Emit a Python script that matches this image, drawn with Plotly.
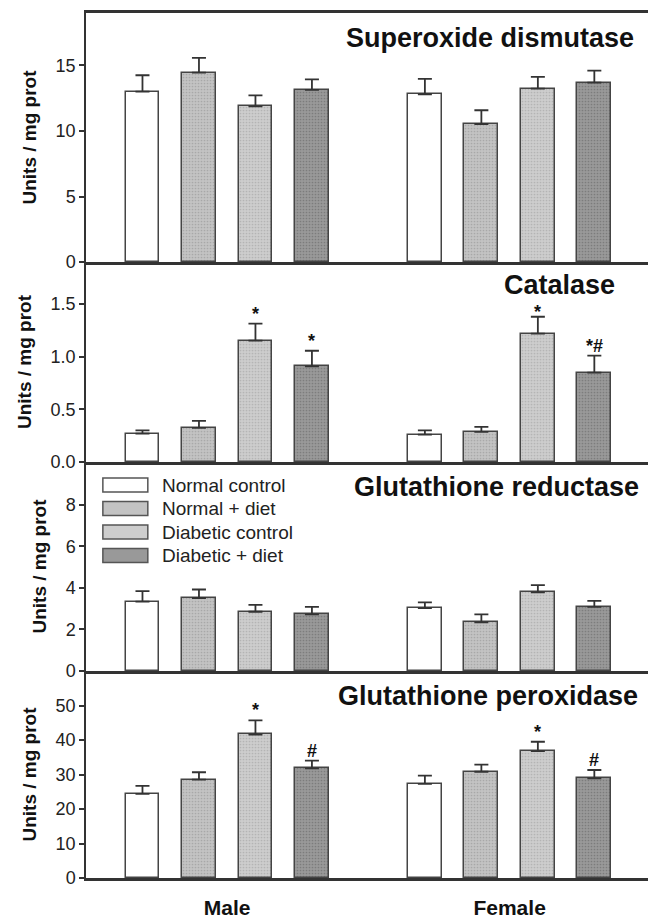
import plotly.graph_objects as go

# ---------------- data ----------------
groups = ["Male", "Female"]
series = ["Normal control", "Normal + diet", "Diabetic control", "Diabetic + diet"]
enzymes = ["Superoxide dismutase", "Catalase", "Glutathione reductase", "Glutathione peroxidase"]

# rows = series, cols = groups (Male, Female)
sod_mean = [[13.0, 12.8], [14.45, 10.53], [11.88, 13.23], [13.13, 13.69]]
sod_err = [[1.25, 1.17], [1.12, 1.05], [0.84, 0.89], [0.81, 0.91]]
cat_mean = [[0.27, 0.26], [0.325, 0.287], [1.153, 1.22], [0.908, 0.85]]
cat_err = [[0.03, 0.04], [0.065, 0.047], [0.162, 0.16], [0.149, 0.16]]
gr_mean = [[3.34, 3.02], [3.51, 2.34], [2.85, 3.78], [2.72, 3.08]]
gr_err = [[0.50, 0.28], [0.41, 0.38], [0.33, 0.35], [0.36, 0.29]]
gp_mean = [[24.4, 27.3], [28.5, 30.8], [41.6, 36.8], [31.8, 28.9]]
gp_err = [[2.3, 2.4], [2.15, 2.05], [4.1, 2.7], [2.2, 2.4]]

sod_sig = [["", ""], ["", ""], ["", ""], ["", ""]]
cat_sig = [["", ""], ["", ""], ["*", "*"], ["*", "*#"]]
gr_sig = [["", ""], ["", ""], ["", ""], ["", ""]]
gp_sig = [["", ""], ["", ""], ["*", "*"], ["#", "#"]]

y_ranges = [[0, 19], [0, 1.9], [0, 10.05], [0, 60]]
y_ticks = [[0, 5, 10, 15], [0.0, 0.5, 1.0, 1.5], [0, 2, 4, 6, 8], [0, 10, 20, 30, 40, 50]]
y_ticktext = [["0", "5", "10", "15"], ["0.0", "0.5", "1.0", "1.5"],
              ["0", "2", "4", "6", "8"], ["0", "10", "20", "30", "40", "50"]]
y_label = "Units / mg prot"

means = [sod_mean, cat_mean, gr_mean, gp_mean]
errs = [sod_err, cat_err, gr_err, gp_err]
sigs = [sod_sig, cat_sig, gr_sig, gp_sig]

# ---------------- style ----------------
FONT = "Liberation Sans, Arial, Helvetica, sans-serif"
fills = ["#ffffff", "#c3c3c3", "#cdcdcd", "#999999"]
dots = ["#ffffff", "#a8a8a8", "#b4b4b4", "#7c7c7c"]
outline = "#444444"
axis_col = "#333333"

# panel domains (top to bottom: SOD, CAT, GR, GP)
domains = [[0.7121, 1.0], [0.4809, 0.7121], [0.2393, 0.4809], [0.0, 0.2393]]
title_x = [0.979, 0.944, 0.988, 0.986]
title_shift = [-25, -23, -25, -25]

gap = 1  # empty slots between groups
slot = len(series) + gap

fig = go.Figure()
annotations = []
shapes = []

for p in range(4):
    ax = "" if p == 0 else str(p + 1)
    for s in range(len(series)):
        xs = [g * slot + s for g in range(len(groups))]
        ys = means[p][s]
        es = errs[p][s]
        fig.add_trace(go.Bar(
            x=xs, y=ys, width=0.6,
            name=series[s], showlegend=False,
            marker=dict(color=fills[s],
                        line=dict(color=outline, width=1.5),
                        pattern=dict(shape="." if s > 0 else "", size=3, solidity=0.25,
                                     fgcolor=dots[s], bgcolor=fills[s], fillmode="replace")),
            error_y=dict(type="data", array=es, arrayminus=[0] * len(es), symmetric=False,
                         color="#333333", thickness=1.8, width=7),
            xaxis="x" + ax, yaxis="y" + ax,
        ))
        for g in range(len(groups)):
            txt = sigs[p][s][g]
            if txt:
                crowded = (p == 1 and g == 1 and s == 2)  # star right under the panel title
                annotations.append(dict(
                    x=xs[g], y=ys[g] + es[g], xref="x" + ax, yref="y" + ax,
                    text="<b>" + txt + "</b>",
                    showarrow=False, yanchor="bottom", xanchor="center",
                    yshift=-7 if crowded else -2,
                    font=dict(family=FONT, size=18, color="#111111")))
    # panel title
    annotations.append(dict(
        x=title_x[p], y=1, xref="x" + ax + " domain", yref="y" + ax + " domain",
        text="<b>" + enzymes[p] + "</b>", showarrow=False, xanchor="right",
        yanchor="middle", yshift=title_shift[p],
        font=dict(family=FONT, size=27, color="#111111")))

    xa = dict(domain=[0, 1], range=[-1.0, 8.95], showgrid=False, zeroline=False,
              showline=True, linecolor=axis_col, linewidth=2.5,
              mirror=(p == 0), ticks="", showticklabels=(p == 3),
              anchor="y" + ax, fixedrange=True, automargin=False)
    if p == 3:
        xa.update(tickvals=[g * slot + (len(series) - 1) / 2 for g in range(len(groups))],
                  ticktext=["<b>" + g + "</b>" for g in groups],
                  tickfont=dict(family=FONT, size=21, color="#111111"),
                  ticklabelstandoff=9)
    else:
        xa.update(matches="x4")
    ya = dict(domain=domains[p], range=y_ranges[p], tickvals=y_ticks[p], ticktext=y_ticktext[p],
              showgrid=False, zeroline=False, showline=True, linecolor=axis_col, linewidth=1.5,
              ticks="outside", ticklen=5, tickwidth=1.5, tickcolor=axis_col,
              tickfont=dict(family=FONT, size=18, color="#222222"),
              title=dict(text="<b>" + y_label + "</b>", font=dict(family=FONT, size=19, color="#111111"),
                         standoff=14),
              anchor="x" + ax, fixedrange=True, automargin=False)
    fig.update_layout(**{("xaxis" + ax): xa, ("yaxis" + ax): ya})

# manual legend inside the Glutathione reductase panel
for s in range(len(series)):
    off = -23 - 23.5 * s
    shapes.append(dict(
        type="rect", xref="x3 domain", yref="y3 domain",
        x0=0.030, x1=0.110, ysizemode="pixel", yanchor=1, y0=off - 7, y1=off + 7,
        line=dict(color="#555555", width=1.5), fillcolor=fills[s]))
    annotations.append(dict(
        x=0.131, y=1, xref="x3 domain", yref="y3 domain", yshift=off,
        text=series[s], showarrow=False, xanchor="left", yanchor="middle",
        font=dict(family=FONT, size=19, color="#222222")))

fig.update_layout(
    width=650, height=920,
    margin=dict(l=86, r=2, t=13, b=42, autoexpand=False),
    paper_bgcolor="white", plot_bgcolor="white",
    bargap=0, barmode="overlay",
    annotations=annotations, shapes=shapes,
    showlegend=False,
)

fig.write_html("out.html", config={"displayModeBar": False},
               post_script="document.body.style.margin='0';document.body.style.overflow='hidden';")
